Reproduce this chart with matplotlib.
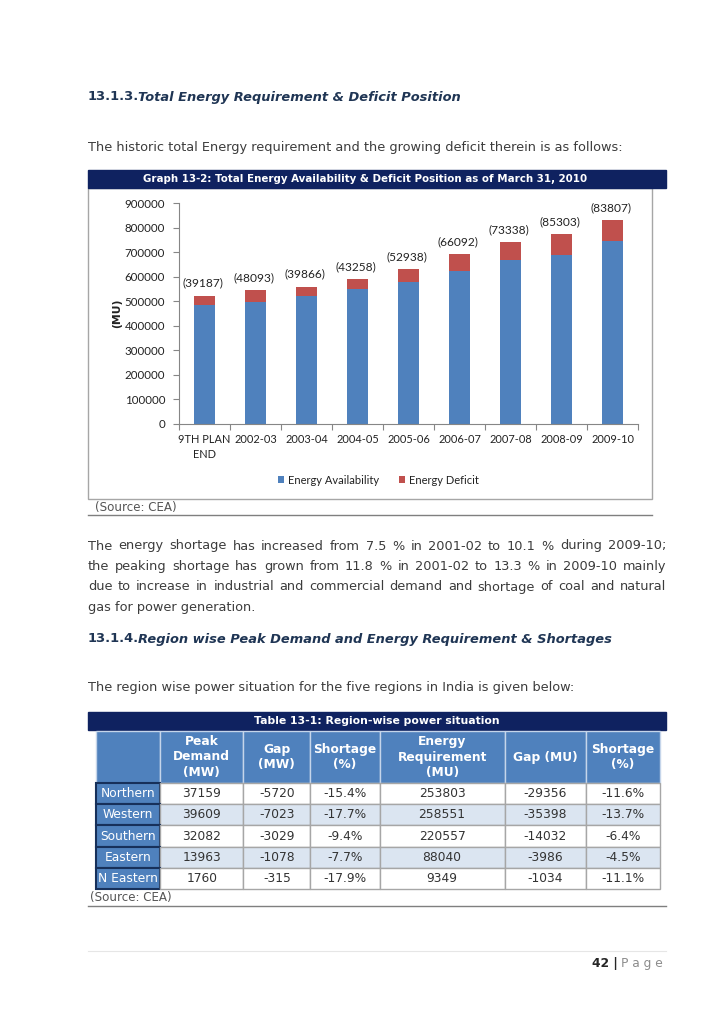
import matplotlib
matplotlib.use('Agg')
import matplotlib.pyplot as plt
from matplotlib.patches import Rectangle
from matplotlib.lines import Line2D

W, H = 728, 1030

# graph 13-2 data (MU)
years = ['9TH PLAN\nEND', '2002-03', '2003-04', '2004-05', '2005-06',
         '2006-07', '2007-08', '2008-09', '2009-10']
availability = [483350, 497890, 519398, 548115, 578819, 624495, 666007, 689021, 746644]
deficit = [39187, 48093, 39866, 43258, 52938, 66092, 73338, 85303, 83807]

# table 13-1 data
regions = ['Northern', 'Western', 'Southern', 'Eastern', 'N Eastern']
col_labels = ['', 'Peak\nDemand\n(MW)', 'Gap\n(MW)', 'Shortage\n(%)',
              'Energy\nRequirement\n(MU)', 'Gap (MU)', 'Shortage\n(%)']
peak_demand = [37159, 39609, 32082, 13963, 1760]
gap_mw = [-5720, -7023, -3029, -1078, -315]
shortage_mw = ['-15.4%', '-17.7%', '-9.4%', '-7.7%', '-17.9%']
energy_req = [253803, 258551, 220557, 88040, 9349]
gap_mu = [-29356, -35398, -14032, -3986, -1034]
shortage_mu = ['-11.6%', '-13.7%', '-6.4%', '-4.5%', '-11.1%']

para1 = 'The historic total Energy requirement and the growing deficit therein is as follows:'
para2 = ['The energy shortage has increased from 7.5 % in 2001-02 to 10.1 % during 2009-10;',
         'the peaking shortage has grown from 11.8 % in 2001-02 to 13.3 % in 2009-10 mainly',
         'due to increase in industrial and commercial demand and shortage of coal and natural',
         'gas for power generation.']
para3 = 'The region wise power situation for the five regions in India is given below:'

NAVY = '#0f2260'
HEAD = '#1f3554'
BODY = '#3c3c3c'
BLUE = '#4f81bd'
RED = '#c0504d'
BODY_SIZE = 9.25


def box(x0, y0, x1, y1):
    return [x0 / W, 1 - y1 / H, (x1 - x0) / W, (y1 - y0) / H]


fig = plt.figure(figsize=(W / 100, H / 100), dpi=100)
page = fig.add_axes([0, 0, 1, 1])
page.set_xlim(0, W)
page.set_ylim(H, 0)
page.axis('off')
renderer = fig.canvas.get_renderer()


def width_of(t):
    return t.get_window_extent(renderer).width


def heading(y, num, rest):
    t = page.text(88, y, num, fontsize=9.4, fontweight='bold', color=HEAD, va='center')
    page.text(88 + width_of(t) - 1, y, rest, fontsize=9.4, fontweight='bold',
              style='italic', color=HEAD, va='center')


def justified(lines, y, dy, x0=88, x1=666):
    for k, line in enumerate(lines):
        yy = y + k * dy
        if k == len(lines) - 1:
            page.text(x0, yy, line, fontsize=BODY_SIZE, color=BODY, va='center')
            continue
        words = line.split(' ')
        texts = [page.text(0, yy, w, fontsize=BODY_SIZE, color=BODY, va='center') for w in words]
        widths = [width_of(t) for t in texts]
        gap = (x1 - x0 - sum(widths)) / (len(words) - 1)
        x = x0
        for t, w in zip(texts, widths):
            t.set_x(x)
            x += w + gap


# ---- text of the page ----
heading(97, '13.1.3.', 'Total Energy Requirement & Deficit Position')
page.text(88, 147, para1, fontsize=BODY_SIZE, color=BODY, va='center')

# ---- graph 13-2 ----
page.add_patch(Rectangle((88, 188), 652 - 88, 499 - 188, fill=False, edgecolor='#a6a6a6', lw=1))
page.add_patch(Rectangle((88, 170), 666 - 88, 18, color=NAVY))
page.text(365, 179.5, 'Graph 13-2: Total Energy Availability & Deficit Position as of March 31, 2010',
          color='white', fontsize=7.4, fontweight='bold', ha='center', va='center')
page.text(117, 313, '(MU)', rotation=90, fontsize=7.8, fontweight='bold', color='#222222',
          ha='center', va='center')

ax = fig.add_axes(box(179, 203, 638, 424))
x = range(len(years))
ax.bar(x, availability, width=0.42, color=BLUE, label='Energy Availability')
ax.bar(x, deficit, width=0.42, bottom=availability, color=RED, label='Energy Deficit')
for i in x:
    ax.annotate(f'({deficit[i]})', (i, availability[i] + deficit[i]), xytext=(-1, 5),
                textcoords='offset points', ha='center', va='bottom',
                fontsize=8.6, family='Lato', color='#222222')
ax.set_xlim(-0.5, len(years) - 0.5)
ax.set_ylim(0, 900000)
ax.set_yticks(range(0, 900001, 100000))
ax.set_yticklabels([str(v) for v in range(0, 900001, 100000)], family='Lato', fontsize=8.3)
ax.set_xticks([i - 0.5 for i in range(len(years) + 1)])
ax.set_xticklabels([])
ax.set_xticks(list(x), minor=True)
ax.set_xticklabels(years, minor=True, family='Lato', fontsize=7.9, linespacing=1.5)
ax.tick_params(axis='x', which='minor', length=0, pad=7, colors='#222222')
ax.tick_params(axis='x', which='major', length=4, color='#868686')
ax.tick_params(axis='y', length=4, color='#868686', labelcolor='#222222', pad=6)
for s in ['top', 'right']:
    ax.spines[s].set_visible(False)
for s in ['left', 'bottom']:
    ax.spines[s].set_color('#868686')
ax.patch.set_alpha(0)
fig.legend(loc='center', bbox_to_anchor=(378 / W, 1 - 480 / H), ncol=2, frameon=False,
           prop={'family': 'Lato', 'size': 8}, handlelength=0.6, handleheight=0.6,
           handletextpad=0.3, columnspacing=1.8, labelcolor='#222222')

page.text(95, 508, '(Source: CEA)', fontsize=8.6, color='#555555', va='center')
page.add_line(Line2D([88, 652], [515, 515], color='#7f7f7f', lw=1))

# ---- text between ----
justified(para2, 546, 20.5)
heading(639, '13.1.4.', 'Region wise Peak Demand and Energy Requirement & Shortages')
page.text(88, 688, para3, fontsize=BODY_SIZE, color=BODY, va='center')

# ---- table 13-1 ----
page.add_patch(Rectangle((88, 712), 666 - 88, 18, color=NAVY))
page.text(377, 721, 'Table 13-1: Region-wise power situation', color='white',
          fontsize=7.8, fontweight='bold', ha='center', va='center')

rows = []
for i in range(len(regions)):
    rows.append([regions[i], str(peak_demand[i]), str(gap_mw[i]), shortage_mw[i],
                 str(energy_req[i]), str(gap_mu[i]), shortage_mu[i]])

tax = fig.add_axes(box(96, 731, 660, 889))
tax.axis('off')
col_w = [64, 83, 67, 69, 125, 81, 74]
tbl = tax.table(cellText=rows, colLabels=col_labels, colWidths=col_w,
                cellLoc='center', bbox=[0, 0, 1, 1])
tbl.auto_set_font_size(False)
tbl.set_fontsize(8.8)
for (r, c), cell in tbl.get_celld().items():
    cell.set_height(52 if r == 0 else 21.2)
    txt = cell.get_text()
    if r == 0:
        cell.set_facecolor(BLUE)
        cell.set_edgecolor('#c5d5ea')
        txt.set_color('white')
        txt.set_fontweight('bold')
        txt.set_linespacing(1.25)
    elif c == 0:
        cell.set_facecolor(BLUE)
        cell.set_edgecolor('#17305a')
        cell.set_linewidth(1.5)
        txt.set_color('white')
    else:
        cell.set_facecolor('white' if r % 2 == 1 else '#dbe5f1')
        cell.set_edgecolor('#a6a6a6')
        txt.set_color('#333333')

page.text(90, 898, '(Source: CEA)', fontsize=8.6, color='#555555', va='center')
page.add_line(Line2D([88, 666], [906, 906], color='#7f7f7f', lw=1))

# ---- footer ----
page.add_line(Line2D([88, 666], [951, 951], color='#e6e6e6', lw=0.8))
pg = page.text(663, 963, 'P a g e', fontsize=8.8, color='#8c8c8c', ha='right', va='center')
page.text(663 - width_of(pg) - 3, 963, '42 |', fontsize=8.8, fontweight='bold',
          color='#262626', ha='right', va='center')

fig.savefig('out.png', dpi=100)
